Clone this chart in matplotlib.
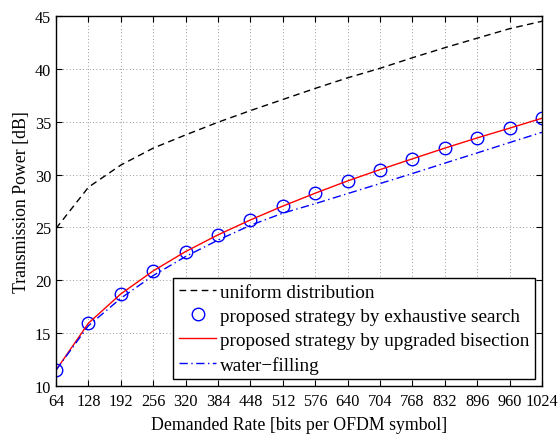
import matplotlib
matplotlib.use("Agg")
import matplotlib.pyplot as plt

rates = [64, 128, 192, 256, 320, 384, 448, 512, 576, 640, 704, 768, 832, 896, 960, 1024]
uniform = [24.9, 28.8, 30.9, 32.5, 33.75, 34.95, 36.05, 37.1, 38.15, 39.15, 40.05, 41.05, 42.0, 42.9, 43.8, 44.5]
exhaustive = [11.5, 15.94, 18.71, 20.89, 22.72, 24.3, 25.71, 27.02, 28.24, 29.4, 30.47, 31.49, 32.5, 33.47, 34.39, 35.33]
bisection = [11.5, 15.94, 18.71, 20.89, 22.72, 24.3, 25.71, 27.02, 28.24, 29.4, 30.47, 31.49, 32.5, 33.47, 34.39, 35.33]
waterfill = [11.5, 15.7, 18.3, 20.45, 22.25, 23.8, 25.2, 26.35, 27.25, 28.2, 29.15, 30.1, 31.08, 32.05, 33.03, 34.0]
xticks = [64, 128, 192, 256, 320, 384, 448, 512, 576, 640, 704, 768, 832, 896, 960, 1024]
yticks = [10, 15, 20, 25, 30, 35, 40, 45]

FS_LEG = 13.8
FS_TICK = 11.7
FS_LAB = 12.8
plt.rcParams['font.family'] = ['Liberation Serif', 'DejaVu Serif']
plt.rcParams['font.size'] = FS_TICK

fig = plt.figure(figsize=(5.6, 4.35), dpi=100)
ax = fig.add_axes([0.1, 0.1103, 0.868, 0.8507])

ax.plot(rates, uniform, color='black', lw=1.0, dashes=(4.8, 3.2),
        label='uniform distribution')
ax.plot(rates, exhaustive, linestyle='none', marker='o', markersize=9,
        markerfacecolor='none', markeredgecolor='#0000ff', markeredgewidth=1.0,
        label='proposed strategy by exhaustive search')
ax.plot(rates, bisection, color='#ff0000', lw=1.0,
        label='proposed strategy by upgraded bisection')
ax.plot(rates, waterfill, color='#0000ff', lw=1.0, dashes=(6, 2.5, 1, 2.5),
        label='water\u2212filling')

ax.set_xlim(64, 1024)
ax.set_ylim(10, 45)
ax.set_xticks(xticks)
ax.set_xticklabels([str(t) for t in xticks])
ax.set_yticks(yticks)
ax.tick_params(direction='in', top=True, right=True, length=4, width=0.8,
               labelsize=FS_TICK)
ax.tick_params(axis='x', pad=5)
ax.tick_params(axis='y', pad=3.5)
ax.grid(True, linestyle=(0, (1, 3)), color='#777777', lw=0.6)
for s in ax.spines.values():
    s.set_linewidth(1.0)

ax.set_xlabel('Demanded Rate [bits per OFDM symbol]', fontsize=FS_LAB, labelpad=5)
ax.set_ylabel('Transmission Power [dB]', fontsize=FS_LAB, labelpad=3.5)

leg = ax.legend(loc='lower right', fontsize=FS_LEG, frameon=True, fancybox=False,
                edgecolor='black', framealpha=1, handlelength=1.95,
                handletextpad=0.2, labelspacing=0.35, borderpad=0.3,
                borderaxespad=0.35)
leg.get_frame().set_linewidth(1.0)

fig.savefig('out.png', dpi=100)
